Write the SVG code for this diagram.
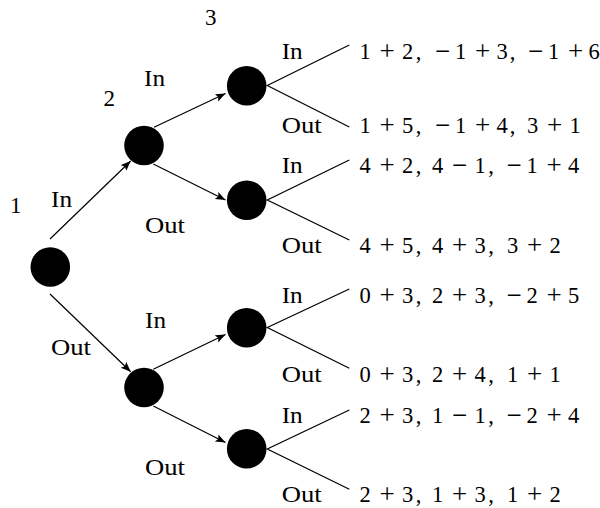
<svg xmlns="http://www.w3.org/2000/svg" width="600" height="508" viewBox="0 0 600 508">
<style>
text{font-family:"Liberation Serif","DejaVu Serif",serif;font-size:23px;fill:#000}
.p{text-anchor:middle;font-size:22.5px}
.o{font-size:27px}
.node{fill:#000}
.edge{stroke:#000;stroke-width:1.2;fill:none}
</style>
<defs>
<marker id="arr" markerUnits="userSpaceOnUse" markerWidth="12" markerHeight="10" refX="10" refY="4" orient="auto">
<path d="M0,0 L10,4 L0,8 L2,4 z" fill="#000"/>
</marker>
</defs>
<rect width="600" height="508" fill="#fff"/>
<g id="connectors">
<line class="edge" x1="50" y1="239" x2="130.7" y2="161" marker-end="url(#arr)"/>
<line class="edge" x1="154" y1="127.3" x2="225.5" y2="93.5" marker-end="url(#arr)"/>
<line class="edge" x1="153.3" y1="164" x2="225.5" y2="200" marker-end="url(#arr)"/>
<line class="edge" x1="50" y1="294" x2="130.7" y2="371.7" marker-end="url(#arr)"/>
<line class="edge" x1="153.3" y1="369.3" x2="225.5" y2="334.5" marker-end="url(#arr)"/>
<line class="edge" x1="153.3" y1="406" x2="225.5" y2="442.5" marker-end="url(#arr)"/>
<path class="edge" d="M349.3,45 L267.3,85.5 L349.3,127"/>
<path class="edge" d="M349.3,160 L267.3,200 L349.3,240"/>
<path class="edge" d="M349.3,289 L267.3,327.5 L349.3,368.3"/>
<path class="edge" d="M349.3,410 L267.3,449 L349.3,489.3"/>
</g>
<g id="n1"><circle class="node" cx="50.3" cy="267" r="19.8"/><text x="10" y="213">1</text></g>
<g id="n2a"><circle class="node" cx="144" cy="145.5" r="19.8"/><text x="103.5" y="106">2</text></g>
<g id="n2b"><circle class="node" cx="144" cy="387.5" r="19.8"/></g>
<g id="n3a"><circle class="node" cx="246.7" cy="85.8" r="19.8"/><text x="205" y="25">3</text></g>
<g id="n3b"><circle class="node" cx="246.7" cy="200.2" r="19.8"/></g>
<g id="n3c"><circle class="node" cx="246.7" cy="327.8" r="19.8"/></g>
<g id="n3d"><circle class="node" cx="246.7" cy="448.8" r="19.8"/></g>
<g id="edge-labels">
<text x="51" y="207" textLength="21" lengthAdjust="spacingAndGlyphs">In</text>
<text x="144" y="85.7" textLength="21" lengthAdjust="spacingAndGlyphs">In</text>
<text x="145" y="233.3" textLength="40" lengthAdjust="spacingAndGlyphs">Out</text>
<text x="51" y="355" textLength="40" lengthAdjust="spacingAndGlyphs">Out</text>
<text x="145" y="328.3" textLength="21" lengthAdjust="spacingAndGlyphs">In</text>
<text x="145" y="475" textLength="40" lengthAdjust="spacingAndGlyphs">Out</text>
<text x="281.7" y="59" textLength="21" lengthAdjust="spacingAndGlyphs">In</text>
<text x="281.7" y="133" textLength="40" lengthAdjust="spacingAndGlyphs">Out</text>
<text x="281.7" y="172.5" textLength="21" lengthAdjust="spacingAndGlyphs">In</text>
<text x="281.7" y="253" textLength="40" lengthAdjust="spacingAndGlyphs">Out</text>
<text x="281.7" y="302.5" textLength="21" lengthAdjust="spacingAndGlyphs">In</text>
<text x="281.7" y="381.5" textLength="40" lengthAdjust="spacingAndGlyphs">Out</text>
<text x="281.7" y="422.5" textLength="21" lengthAdjust="spacingAndGlyphs">In</text>
<text x="281.7" y="502" textLength="40" lengthAdjust="spacingAndGlyphs">Out</text>
</g>
<g id="payoffs">
<text class="p" x="365 387 407.5 418.5" y="59 60 59 59">1<tspan class="o">+</tspan>2,</text>
<text class="p" x="442.5 460.5 482.5 502 512.5" y="60 59 60 59 59"><tspan class="o">−</tspan>1<tspan class="o">+</tspan>3,</text>
<text class="p" x="535.5 553.5 575.5 594" y="60 59 60 59"><tspan class="o">−</tspan>1<tspan class="o">+</tspan>6</text>
<text class="p" x="365 387 407.5 418.5" y="133 134 133 133">1<tspan class="o">+</tspan>5,</text>
<text class="p" x="442.5 460.5 482.5 502 512.5" y="134 133 134 133 133"><tspan class="o">−</tspan>1<tspan class="o">+</tspan>4,</text>
<text class="p" x="532.5 554.5 575" y="133 134 133">3<tspan class="o">+</tspan>1</text>
<text class="p" x="365 387 407.5 418.5" y="172.5 173.5 172.5 172.5">4<tspan class="o">+</tspan>2,</text>
<text class="p" x="437.5 459.5 480 491" y="172.5 173.5 172.5 172.5">4<tspan class="o">−</tspan>1,</text>
<text class="p" x="514 532 554 573.5" y="173.5 172.5 173.5 172.5"><tspan class="o">−</tspan>1<tspan class="o">+</tspan>4</text>
<text class="p" x="365 387 407.5 418.5" y="253 254 253 253">4<tspan class="o">+</tspan>5,</text>
<text class="p" x="437.5 459.5 480 491" y="253 254 253 253">4<tspan class="o">+</tspan>3,</text>
<text class="p" x="512.5 534.5 555" y="253 254 253">3<tspan class="o">+</tspan>2</text>
<text class="p" x="365 387 407.5 418.5" y="302.5 303.5 302.5 302.5">0<tspan class="o">+</tspan>3,</text>
<text class="p" x="437.5 459.5 480 491" y="302.5 303.5 302.5 302.5">2<tspan class="o">+</tspan>3,</text>
<text class="p" x="514 532 554 573.5" y="303.5 302.5 303.5 302.5"><tspan class="o">−</tspan>2<tspan class="o">+</tspan>5</text>
<text class="p" x="365 387 407.5 418.5" y="381.5 382.5 381.5 381.5">0<tspan class="o">+</tspan>3,</text>
<text class="p" x="437.5 459.5 480 491" y="381.5 382.5 381.5 381.5">2<tspan class="o">+</tspan>4,</text>
<text class="p" x="512.5 534.5 555" y="381.5 382.5 381.5">1<tspan class="o">+</tspan>1</text>
<text class="p" x="365 387 407.5 418.5" y="422.5 423.5 422.5 422.5">2<tspan class="o">+</tspan>3,</text>
<text class="p" x="437.5 459.5 480 491" y="422.5 423.5 422.5 422.5">1<tspan class="o">−</tspan>1,</text>
<text class="p" x="514 532 554 573.5" y="423.5 422.5 423.5 422.5"><tspan class="o">−</tspan>2<tspan class="o">+</tspan>4</text>
<text class="p" x="365 387 407.5 418.5" y="502 503 502 502">2<tspan class="o">+</tspan>3,</text>
<text class="p" x="437.5 459.5 480 491" y="502 503 502 502">1<tspan class="o">+</tspan>3,</text>
<text class="p" x="512.5 534.5 555" y="502 503 502">1<tspan class="o">+</tspan>2</text>
</g>
</svg>
